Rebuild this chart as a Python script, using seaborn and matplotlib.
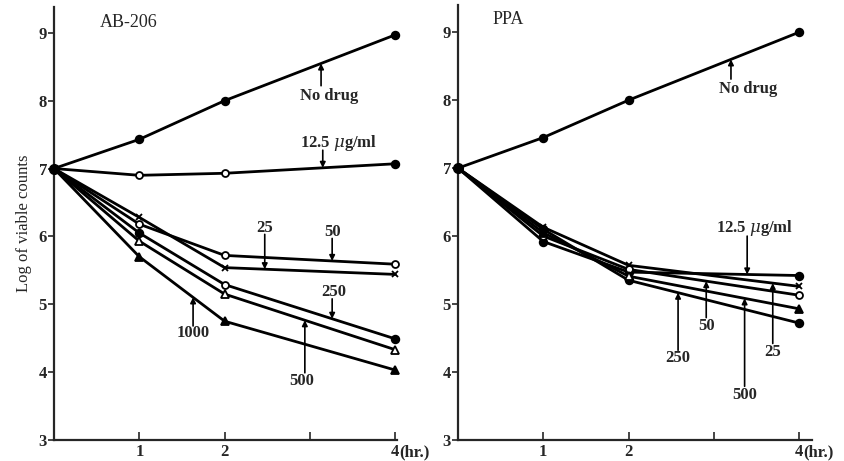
import numpy as np
import pandas as pd
import matplotlib
matplotlib.use("Agg")
import matplotlib.pyplot as plt
import seaborn as sns

# sampling times (hr.)
hours = [0, 1, 2, 4]

# AB-206 panel, log of viable counts
ab_no_drug = [7.0, 7.43, 8.0, 8.97]
ab_12_5 = [7.0, 6.90, 6.93, 7.07]
ab_25 = [7.0, 6.28, 5.54, 5.44]
ab_50 = [7.0, 6.18, 5.72, 5.59]
ab_250 = [7.0, 6.05, 5.29, 4.49]
ab_500 = [7.0, 5.93, 5.15, 4.33]
ab_1000 = [7.0, 5.70, 4.75, 4.03]

# PPA panel
ppa_no_drug = [7.0, 7.45, 8.0, 9.0]
ppa_12_5 = [7.0, 5.92, 5.47, 5.42]
ppa_25 = [7.0, 6.13, 5.57, 5.26]
ppa_50 = [7.0, 6.00, 5.51, 5.13]
ppa_250 = [7.0, 6.10, 5.35, 4.72]
ppa_500 = [7.0, 6.05, 5.41, 4.93]

y_ticks = [3, 4, 5, 6, 7, 8, 9]
x_ticks = [1, 2, 3, 4]
x_ticklabels = ["1", "2", "", "4"]

# marker codes for the points after t=0
# f = filled circle, o = open circle, x = cross, t = open triangle, T = filled triangle
MARKERS = {
    "f": ("o", "black", 5.5),
    "o": ("o", "white", 5),
    "x": ("x", "black", 4.5),
    "t": ("^", "white", 5.5),
    "T": ("^", "black", 5.5),
}

sns.set_style("ticks")
plt.rcParams["font.family"] = ["Liberation Serif", "DejaVu Serif"]
plt.rcParams["mathtext.fontset"] = "dejavuserif"

fig = plt.figure(figsize=(8.44, 4.61), dpi=100)
ax1 = fig.add_axes([54 / 844, 21 / 461, 343 / 844, 433 / 461])
ax2 = fig.add_axes([458 / 844, 21 / 461, 354 / 844, 435 / 461])


def draw_series(ax, vals, marks):
    df = pd.DataFrame({"hr": hours, "log": vals})
    sns.lineplot(data=df, x="hr", y="log", ax=ax, color="black", lw=2.0,
                 estimator=None, sort=False, zorder=2)
    for t, v, m in zip(hours[1:], vals[1:], marks):
        shape, face, size = MARKERS[m]
        ax.plot(t, v, marker=shape, ms=size, mfc=face, mec="black",
                mew=1.3, zorder=4, clip_on=False)


def label_line(ax, vals, text, tx, ty, ax_t, tail):
    # vertical arrow from the label to the curve
    tip = np.interp(ax_t, hours, vals)
    ax.annotate("", xy=(ax_t, tip), xytext=(ax_t, tail),
                arrowprops=dict(arrowstyle="-|>", color="black", lw=1.2,
                                mutation_scale=8, shrinkA=0, shrinkB=0))
    ax.text(tx, ty, text, ha="center", va="center", fontsize=12,
            fontweight="bold")


# AB-206
draw_series(ax1, ab_no_drug, "fff")
draw_series(ax1, ab_12_5, "oof")
draw_series(ax1, ab_25, "xxx")
draw_series(ax1, ab_50, "ooo")
draw_series(ax1, ab_250, "fof")
draw_series(ax1, ab_500, "ttt")
draw_series(ax1, ab_1000, "TTT")
ax1.plot(hours[0], ab_no_drug[0], marker="o", ms=7, color="black", zorder=5,
         clip_on=False)

label_line(ax1, ab_no_drug, "No drug", 3.23, 8.07, 3.13, 8.22)
label_line(ax1, ab_12_5, "12.5 $\\mu$g/ml", 3.33, 7.37, 3.15, 7.27)
label_line(ax1, ab_25, "25", 2.47, 6.13, 2.47, 6.03)
label_line(ax1, ab_50, "50", 3.26, 6.07, 3.26, 5.97)
label_line(ax1, ab_250, "250", 3.28, 5.18, 3.26, 5.08)
label_line(ax1, ab_1000, "1000", 1.63, 4.57, 1.63, 4.68)
label_line(ax1, ab_500, "500", 2.90, 3.87, 2.94, 3.99)
ax1.text(0.54, 9.15, "AB-206", fontsize=13, va="center")
ax1.set_xlim(0, 4.02)
ax1.set_ylim(3, 9.38)

# PPA
draw_series(ax2, ppa_no_drug, "fff")
draw_series(ax2, ppa_12_5, "fff")
draw_series(ax2, ppa_25, "xxx")
draw_series(ax2, ppa_50, "ooo")
draw_series(ax2, ppa_250, "fff")
draw_series(ax2, ppa_500, "TtT")
ax2.plot(hours[0], ppa_no_drug[0], marker="o", ms=7, color="black", zorder=5,
         clip_on=False)

label_line(ax2, ppa_no_drug, "No drug", 3.40, 8.16, 3.20, 8.31)
label_line(ax2, ppa_12_5, "12.5 $\\mu$g/ml", 3.48, 6.12, 3.39, 6.0)
label_line(ax2, ppa_50, "50", 2.91, 4.68, 2.91, 4.80)
label_line(ax2, ppa_25, "25", 3.69, 4.30, 3.69, 4.42)
label_line(ax2, ppa_250, "250", 2.58, 4.20, 2.58, 4.32)
label_line(ax2, ppa_500, "500", 3.36, 3.66, 3.36, 3.79)
ax2.text(0.41, 9.18, "PPA", fontsize=13, va="center")
ax2.set_xlim(0, 4.15)
ax2.set_ylim(3, 9.4)

for ax in (ax1, ax2):
    sns.despine(ax=ax)
    ax.spines["left"].set_linewidth(1.6)
    ax.spines["bottom"].set_linewidth(1.6)
    ax.set_yticks(y_ticks)
    ax.set_yticklabels([str(v) for v in y_ticks], fontweight="bold", fontsize=12)
    ax.set_xticks(x_ticks)
    ax.set_xticklabels(x_ticklabels, fontweight="bold", fontsize=12)
    ax.tick_params(axis="y", direction="out", length=4, width=1.2, pad=1)
    ax.tick_params(axis="x", direction="in", length=6, width=1.2, pad=3)
    ax.set_xlabel("")
    ax.set_ylabel("")
    ax.annotate("(hr.)", xy=(4, 0), xycoords=("data", "axes fraction"),
                xytext=(3, -3), textcoords="offset points", ha="left",
                va="top", fontsize=12, fontweight="bold")

ax1.set_ylabel("Log of viable counts", fontsize=12, labelpad=5)

fig.savefig("out.png", dpi=100)
